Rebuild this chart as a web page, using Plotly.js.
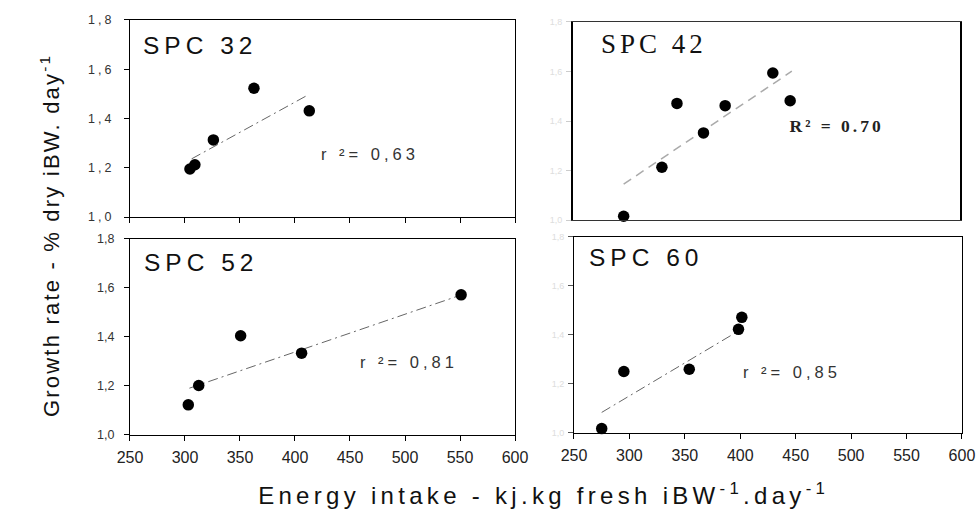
<!DOCTYPE html>
<html><head><meta charset="utf-8">
<script src="https://cdn.plot.ly/plotly-3.0.1.min.js"></script>
<style>
html,body{margin:0;padding:0;background:#fff}
#chart{width:978px;height:510px}
.xtick text{letter-spacing:2px}
.ytick text{letter-spacing:3px}
g.annotation[data-index="0"] text, g.annotation[data-index="2"] text, g.annotation[data-index="3"] text{letter-spacing:5px}
g.annotation[data-index="1"] text{letter-spacing:4px}
g.annotation[data-index="4"] text, g.annotation[data-index="6"] text, g.annotation[data-index="7"] text{letter-spacing:4px}
g.annotation[data-index="5"] text{letter-spacing:3px}
g.annotation[data-index="8"] text{letter-spacing:2.2px}
g.annotation[data-index="9"] text{letter-spacing:4.3px}
</style>
</head><body><div id="chart"></div>
<script>
// Data
const spc32X = [304.5, 309, 325.8, 362.7, 413];
const spc32Y = [1.195, 1.212, 1.313, 1.523, 1.431];
const spc32FitX = [306, 412];
const spc32FitY = [1.236, 1.496];

const spc42X = [295.8, 330.4, 344, 368, 387.6, 430.7, 446.4];
const spc42Y = [1.015, 1.213, 1.471, 1.352, 1.462, 1.594, 1.482];
const spc42FitX = [295.8, 447.9];
const spc42FitY = [1.145, 1.601];

const spc52X = [303, 312.5, 350.6, 406, 551];
const spc52Y = [1.123, 1.202, 1.405, 1.334, 1.572];
const spc52FitX = [304, 548.8];
const spc52FitY = [1.191, 1.568];

const spc60X = [275, 295, 354, 398.4, 401.4];
const spc60Y = [1.018, 1.251, 1.26, 1.423, 1.472];
const spc60FitX = [275, 397.5];
const spc60FitY = [1.084, 1.414];

const xTickVals = [250, 300, 350, 400, 450, 500, 550, 600];
const xTickText = ['250', '300', '350', '400', '450', '500', '550', '600'];
const yTickVals = [1.0, 1.2, 1.4, 1.6, 1.8];
const yTickText = ['1,0', '1,2', '1,4', '1,6', '1,8'];
const panelNames = ['SPC 32', 'SPC 42', 'SPC 52', 'SPC 60'];
const r2Labels = ['r ²= 0,63', 'R² = 0.70', 'r ²= 0,81', 'r ²= 0,85'];

const arial = 'Liberation Sans, Arial, sans-serif';
const serif = 'Liberation Serif, Times New Roman, serif';

function pts(x, y, ax) {
  return {x: x, y: y, xaxis: 'x' + ax, yaxis: 'y' + ax, type: 'scatter', mode: 'markers',
    cliponaxis: false, marker: {color: '#000', size: 11.5}, hoverinfo: 'x+y', showlegend: false};
}
function fit(x, y, ax, dash, color, w) {
  return {x: x, y: y, xaxis: 'x' + ax, yaxis: 'y' + ax, type: 'scatter', mode: 'lines',
    line: {color: color, dash: dash, width: w}, hoverinfo: 'skip', showlegend: false};
}
const data = [
  fit(spc32FitX, spc32FitY, '', '10px,4px,2px,4px', '#666', 1),
  fit(spc42FitX, spc42FitY, '2', '9px,6px', '#aaa', 1.5),
  fit(spc52FitX, spc52FitY, '3', '10px,4px,2px,4px', '#666', 1),
  fit(spc60FitX, spc60FitY, '4', '10px,4px,2px,4px', '#666', 1),
  pts(spc32X, spc32Y, ''),
  pts(spc42X, spc42Y, '2'),
  pts(spc52X, spc52Y, '3'),
  pts(spc60X, spc60Y, '4')
];

function xax(domain, anchor, opts) {
  return Object.assign({domain: domain, anchor: anchor, range: [250, 600], showgrid: false, zeroline: false,
    showline: true, linecolor: '#000', linewidth: 1, mirror: true, ticks: 'outside', ticklen: 5,
    tickcolor: '#000', tickvals: xTickVals, ticktext: xTickText, ticklabelstandoff: 3,
    tickfont: {family: arial, size: 16, color: '#222'}}, opts || {});
}
function yax(domain, anchor, opts) {
  return Object.assign({domain: domain, anchor: anchor, range: [1.0, 1.8], showgrid: false, zeroline: false,
    showline: true, linecolor: '#000', linewidth: 1, mirror: true, ticks: 'outside', ticklen: 5,
    tickcolor: '#000', tickvals: yTickVals, ticktext: yTickText, ticklabelstandoff: 7,
    tickfont: {family: arial, size: 12.5, color: '#333'}}, opts || {});
}

const layout = {
  width: 978, height: 510,
  margin: {l: 0, r: 0, t: 0, b: 0},
  paper_bgcolor: '#fff', plot_bgcolor: '#fff',
  showlegend: false,
  xaxis: xax([0.1329, 0.5266], 'y', {showticklabels: false}),
  yaxis: yax([0.5745, 0.9608], 'x'),
  xaxis2: xax([0.5859, 0.9816], 'y2', {showticklabels: false, ticks: '', linecolor: '#333'}),
  yaxis2: yax([0.5686, 0.9569], 'x2', {linewidth: 2, tickcolor: '#ccc', ticklabelstandoff: 2,
    tickfont: {family: arial, size: 9, color: '#dddddd'}}),
  xaxis3: xax([0.1329, 0.5266], 'y3'),
  yaxis3: yax([0.1471, 0.5314], 'x3'),
  xaxis4: xax([0.5869, 0.9836], 'y4'),
  yaxis4: yax([0.151, 0.5353], 'x4', {tickcolor: '#555', ticklabelstandoff: 2,
    tickfont: {family: arial, size: 9, color: '#dddddd'}}),
  annotations: [
    {xref: 'x domain', yref: 'y domain', x: 0.181, y: 0.873, xanchor: 'center', yanchor: 'middle', showarrow: false,
      text: panelNames[0], font: {family: arial, size: 24.5, color: '#111'}},
    {xref: 'x2 domain', yref: 'y2 domain', x: 0.209, y: 0.89, xanchor: 'center', yanchor: 'middle', showarrow: false,
      text: panelNames[1], font: {family: serif, size: 27, color: '#111'}},
    {xref: 'x3 domain', yref: 'y3 domain', x: 0.184, y: 0.878, xanchor: 'center', yanchor: 'middle', showarrow: false,
      text: panelNames[2], font: {family: arial, size: 24.5, color: '#111'}},
    {xref: 'x4 domain', yref: 'y4 domain', x: 0.185, y: 0.893, xanchor: 'center', yanchor: 'middle', showarrow: false,
      text: panelNames[3], font: {family: arial, size: 24.5, color: '#111'}},
    {xref: 'x', yref: 'y', x: 468, y: 1.256, xanchor: 'center', showarrow: false, text: r2Labels[0],
      font: {family: arial, size: 16.5, color: '#333'}},
    {xref: 'x2', yref: 'y2', x: 488.5, y: 1.38, xanchor: 'center', showarrow: false, text: r2Labels[1],
      font: {family: serif, size: 17.5, color: '#222', weight: 'bold'}},
    {xref: 'x3', yref: 'y3', x: 504, y: 1.296, xanchor: 'center', showarrow: false, text: r2Labels[2],
      font: {family: arial, size: 16.5, color: '#333'}},
    {xref: 'x4', yref: 'y4', x: 446.6, y: 1.248, xanchor: 'center', showarrow: false, text: r2Labels[3],
      font: {family: arial, size: 16.5, color: '#333'}},
    {xref: 'paper', yref: 'paper', x: 50 / 978, y: 1 - 236 / 510, xanchor: 'center', yanchor: 'middle',
      textangle: -90, showarrow: false,
      text: 'Growth rate - % dry iBW. day<sup>-1</sup>', font: {family: arial, size: 22, color: '#111'}},
    {xref: 'paper', yref: 'paper', x: 543 / 978, y: 1 - 494 / 510, xanchor: 'center', yanchor: 'middle',
      showarrow: false,
      text: 'Energy intake - kj.kg fresh iBW<sup>-1</sup>.day<sup>-1</sup>', font: {family: arial, size: 24, color: '#111'}}
  ]
};

Plotly.newPlot('chart', data, layout, {displayModeBar: false, staticPlot: true});
</script>
</body></html>
